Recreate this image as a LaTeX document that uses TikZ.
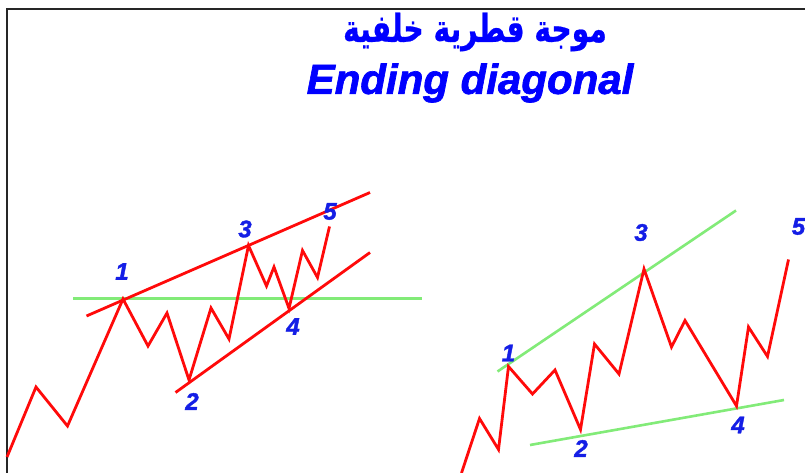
\documentclass[tikz,border=0pt]{standalone}
\usepackage{fontspec}
\setmainfont{Liberation Sans}
\newfontfamily\arabicfont[Script=Arabic,BoldFeatures={FakeBold=0.6}]{DejaVu Sans}
\newfontfamily\heavyfont[BoldItalicFeatures={FakeBold=1.6}]{Liberation Sans}
\TeXXeTstate=1
\definecolor{wavered}{RGB}{255,10,10}
\definecolor{lightgrn}{RGB}{130,235,120}
\definecolor{lblblue}{RGB}{20,30,230}
\begin{document}
\begin{tikzpicture}[x=1pt,y=-1pt,
  wave/.style={draw=wavered,line width=2.8pt,line join=miter},
  redline/.style={draw=wavered,line width=2.8pt},
  grnline/.style={draw=lightgrn,line width=2.6pt},
  wlabel/.style={text=lblblue,font=\heavyfont\fontsize{24}{24}\selectfont\bfseries\itshape,inner sep=0pt},
  border/.style={draw=black!85,line width=2pt}]
\useasboundingbox (0,0) rectangle (805,473);
\fill[white] (0,0) rectangle (805,473);
% border
\coordinate (bTL) at (6.5,9.5);
\coordinate (bTR) at (805,9.5);
\coordinate (bBL) at (6.5,473);
\draw[border] (bBL) -- (bTL) -- (bTR);
% titles
\node[text=blue,font=\fontsize{32}{32}\selectfont\bfseries,inner sep=0pt] (tar) at (475,32) {\scalebox{0.88}[1.2]{\arabicfont\bfseries\beginR موجة قطرية خلفية\endR}};
\node[text=blue,font=\heavyfont\fontsize{42}{42}\selectfont\bfseries\itshape,inner sep=0pt] (ten) at (470,83) {Ending diagonal};
% ---------- left figure ----------
\coordinate (g1a) at (73,298.5);
\coordinate (g1b) at (422,298.5);
\draw[grnline] (g1a) -- (g1b);
\coordinate (u1a) at (86.5,316);
\coordinate (u1b) at (370,192.5);
\coordinate (l1a) at (175.5,392.5);
\coordinate (l1b) at (370,252.5);
\draw[redline] (u1a) -- (u1b);
\draw[redline] (l1a) -- (l1b);
\coordinate (a0) at (7,457);
\coordinate (a1) at (36,387);
\coordinate (a2) at (67.5,426);
\coordinate (A1) at (123,299);
\coordinate (a3) at (148,346);
\coordinate (a4) at (167,313);
\coordinate (A2) at (189,380);
\coordinate (a5) at (211,308);
\coordinate (a6) at (229,339);
\coordinate (A3) at (248.5,245.5);
\coordinate (a7) at (266.5,286);
\coordinate (a8) at (274,267);
\coordinate (A4) at (289,308.5);
\coordinate (a9) at (302.5,250.5);
\coordinate (a10) at (317.5,277.5);
\coordinate (A5) at (329.5,226.5);
\draw[wave] (a0) -- (a1) -- (a2) -- (A1) -- (a3) -- (a4) -- (A2) -- (a5) -- (a6) -- (A3) -- (a7) -- (a8) -- (A4) -- (a9) -- (a10) -- (A5);
\node[wlabel] (n1) at (122,271.5) {1};
\node[wlabel] (n2) at (192,401.5) {2};
\node[wlabel] (n3) at (245,229) {3};
\node[wlabel] (n4) at (293,326.5) {4};
\node[wlabel] (n5) at (330,211.5) {5};
% ---------- right figure ----------
\coordinate (ug) at (497.5,371.5);
\coordinate (ugb) at (736,210.5);
\coordinate (lg) at (530,445);
\coordinate (lgb) at (784,400);
\draw[grnline] (ug) -- (ugb);
\draw[grnline] (lg) -- (lgb);
\coordinate (b0) at (461.5,473);
\coordinate (b1) at (479.5,418.5);
\coordinate (b2) at (498.5,449.5);
\coordinate (B1) at (508.5,366.5);
\coordinate (b3) at (532.5,394);
\coordinate (b4) at (555,370);
\coordinate (B2) at (580.5,429.5);
\coordinate (b5) at (594.5,344);
\coordinate (b6) at (619,374);
\coordinate (B3) at (644,269);
\coordinate (b7) at (671.5,347);
\coordinate (b8) at (685,320.5);
\coordinate (B4) at (736.5,406);
\coordinate (b9) at (748.5,327);
\coordinate (b10) at (767.5,356.5);
\coordinate (B5) at (788.5,259.5);
\draw[wave] (b0) -- (b1) -- (b2) -- (B1) -- (b3) -- (b4) -- (B2) -- (b5) -- (b6) -- (B3) -- (b7) -- (b8) -- (B4) -- (b9) -- (b10) -- (B5);
\node[wlabel] (m1) at (508.5,353) {1};
\node[wlabel] (m2) at (581,448.5) {2};
\node[wlabel] (m3) at (641,232.5) {3};
\node[wlabel] (m4) at (738,425) {4};
\node[wlabel] (m5) at (798.5,226.5) {5};
\end{tikzpicture}
\end{document}
